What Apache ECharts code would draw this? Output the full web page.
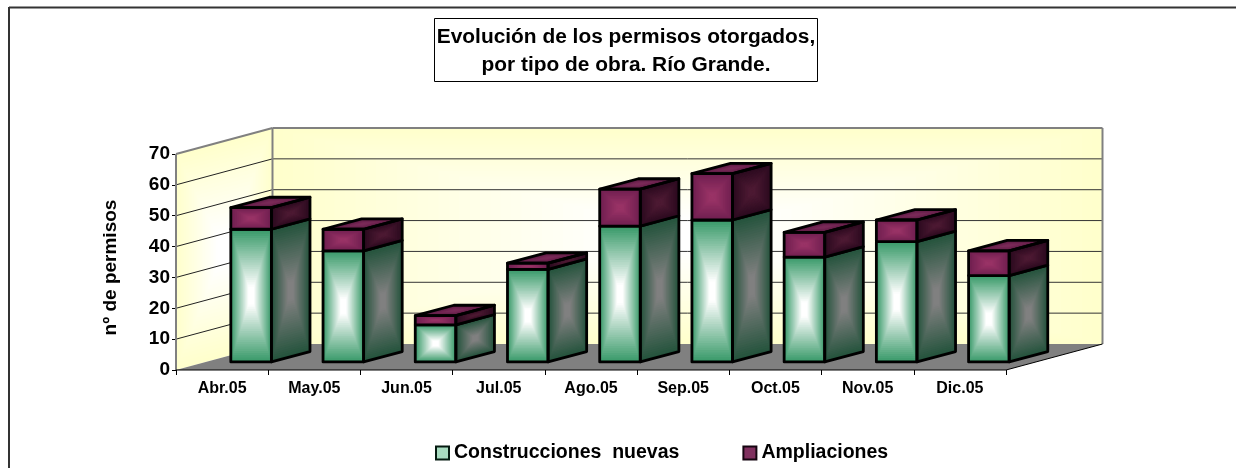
<!DOCTYPE html>
<html><head><meta charset="utf-8">
<style>html,body{margin:0;padding:0;background:#fff}#c{width:1236px;height:468px}</style>
<script src="https://cdn.jsdelivr.net/npm/echarts@6/dist/echarts.min.js"></script>
</head><body><div id="c"></div>
<script>
var categories = ['Abr.05','May.05','Jun.05','Jul.05','Ago.05','Sep.05','Oct.05','Nov.05','Dic.05'];
var nuevas = [43,36,12,30,44,46,34,39,28];
var ampliaciones = [7,7,3,2,12,15,8,7,8];
var yTicks = [0,10,20,30,40,50,60,70];
var FONT = '"Liberation Sans", Arial, sans-serif';
var DX = 96.5, DY = 26;            // oblique projection of the chart depth
var D0 = 0.31, D1 = 0.71, BAR = 0.44, BAR_SHIFT = -0.01;

function hex(c){return [parseInt(c.substr(1,2),16),parseInt(c.substr(3,2),16),parseInt(c.substr(5,2),16)];}
function mix(a,b,t){var A=hex(a),B=hex(b);return 'rgb('+A.map(function(v,i){return Math.round(v+(B[i]-v)*t);}).join(',')+')';}
// box gradient: nested copies of a polygon shrinking towards its centre
function boxFill(pts, edge, mid, steps){
  var cx=0,cy=0;pts.forEach(function(p){cx+=p[0]/pts.length;cy+=p[1]/pts.length;});
  var out=[];
  for(var i=0;i<steps;i++){
    var k=1-i/steps;
    out.push({type:'polygon',silent:true,shape:{points:pts.map(function(p){return [cx+(p[0]-cx)*k,cy+(p[1]-cy)*k];})},
      style:{fill:mix(edge,mid,Math.min(1,i/(steps-1)/0.88))}});
  }
  return out;
}
function outline(pts){
  return {type:'polygon',silent:true,shape:{points:pts},style:{fill:'none',stroke:'#000',lineWidth:2.8,lineJoin:'round'}};
}
function line(a,b,color,w){
  return {type:'line',silent:true,shape:{x1:a[0],y1:a[1],x2:b[0],y2:b[1]},style:{stroke:color,lineWidth:w}};
}
function off(p,d){return [p[0]+DX*d,p[1]-DY*d];}

function renderWalls(params, api){
  if(params.dataIndex!==0) return {type:'group',children:[]};
  var n=categories.length;
  var o=api.coord([0,0]), band=api.size([1,0])[0];
  var l0=[o[0]-band/2,o[1]], r0=[o[0]-band/2+band*n,o[1]];
  var topV=yTicks[yTicks.length-1];
  var lt=[l0[0],api.coord([0,topV])[1]], rt=[r0[0],lt[1]];
  var kids=[];
  var back=[off(lt,1),off(rt,1),off(r0,1),off(l0,1)];
  var left=[lt,off(lt,1),off(l0,1),l0];
  kids=kids.concat(boxFill(back,'#ffffcc','#ffffff',40));
  kids=kids.concat(boxFill(left,'#ffffcc','#ffffff',30));
  // grid lines
  yTicks.forEach(function(v){
    if(v===0||v===topV) return;
    var y=api.coord([0,v])[1];
    kids.push(line([l0[0],y],off([l0[0],y],1),'#222',1));
    kids.push(line(off([l0[0],y],1),off([r0[0],y],1),'#333',1));
  });
  kids.push({type:'polygon',silent:true,shape:{points:[l0,r0,off(r0,1),off(l0,1)]},style:{fill:'#808080'}});
  // wall frames
  var g='#808080';
  kids.push(line(l0,lt,g,2));
  kids.push(line(lt,off(lt,1),g,2));
  kids.push(line(off(lt,1),off(rt,1),g,2));
  kids.push(line(off(rt,1),off(r0,1),g,2));
  kids.push(line(off(lt,1),off(l0,1),g,2));
  kids.push(line(l0,r0,'#000',1));
  kids.push(line(r0,off(r0,1),'#000',1));
  return {type:'group',children:kids};
}
function barRenderer(palette, withTop){
  return function(params, api){
    var i=api.value(0);
    var a=api.coord([i,api.value(1)]), b=api.coord([i,api.value(2)]), band=api.size([1,0])[0];
    var cx=a[0]+band*BAR_SHIFT, hw=band*BAR/2;
    var bl=off([cx-hw,a[1]],D0), br=off([cx+hw,a[1]],D0), tl=off([cx-hw,b[1]],D0), tr=off([cx+hw,b[1]],D0);
    var d=D1-D0;
    var brb=off(br,d), trb=off(tr,d), tlb=off(tl,d);
    var front=[tl,tr,br,bl], side=[tr,trb,brb,br], top=[tl,tlb,trb,tr];
    var kids=[];
    kids=kids.concat(boxFill(front,palette.front[0],palette.front[1],30));
    kids=kids.concat(boxFill(side,palette.side[0],palette.side[1],30));
    if(withTop) kids=kids.concat(boxFill(top,palette.top[0],palette.top[1],8));
    kids.push(outline(front));kids.push(outline(side));
    if(withTop) kids.push(outline(top));
    return {type:'group',children:kids};
  };
}
var lowerData = nuevas.map(function(v,i){return [i,0,v];});
var upperData = ampliaciones.map(function(v,i){return [i,nuevas[i],nuevas[i]+v];});
var NUEVAS='Construcciones  nuevas', AMPL='Ampliaciones';
var greenPal={front:['#3a9a6a','#ffffff'],side:['#24533c','#808080']};
var maroonPal={front:['#6f1f50','#993366'],side:['#2b0a1f','#4d1a33'],top:['#5a1a42','#7a2a58']};

var chart=echarts.init(document.getElementById('c'),null,{renderer:'canvas'});
chart.setOption({
  animation:false,
  backgroundColor:'#fff',
  title:{text:'Evolución de los permisos otorgados,\npor tipo de obra. Río Grande.',left:623,top:18,
    padding:[5,3,3,3],borderColor:'#000',borderWidth:1,textAlign:'center',
    textStyle:{fontFamily:FONT,fontWeight:'bold',fontSize:20.9,lineHeight:28,color:'#000'}},
  legend:{left:435,top:443,padding:0,itemWidth:13,itemHeight:13,itemGap:63,icon:'rect',selectedMode:false,
    textStyle:{fontFamily:FONT,fontWeight:'bold',fontSize:19.5,color:'#000',padding:[1,0,0,0]},
    data:[
      {name:NUEVAS,itemStyle:{color:'#a8dcc0',borderColor:'#051a10',borderWidth:2}},
      {name:AMPL,itemStyle:{color:'#80305f',borderColor:'#140510',borderWidth:2}}]},
  grid:{left:176,right:230,top:154,bottom:98,containLabel:false},
  xAxis:{type:'category',data:categories,
    axisLine:{show:false},
    axisTick:{show:true,alignWithLabel:false,length:5,lineStyle:{color:'#000',width:1}},
    axisLabel:{fontFamily:FONT,fontWeight:'bold',fontSize:16,color:'#000',margin:11},
    splitLine:{show:false}},
  yAxis:{type:'value',min:0,max:70,interval:10,
    name:'nº de permisos',nameLocation:'middle',nameGap:56,nameRotate:90,
    nameTextStyle:{fontFamily:FONT,fontWeight:'bold',fontSize:19,color:'#000',padding:[0,11,0,0]},
    axisLine:{show:false},
    axisTick:{show:true,length:4,lineStyle:{color:'#000',width:1}},
    axisLabel:{fontFamily:FONT,fontWeight:'bold',fontSize:19,color:'#000',margin:6,padding:[5,0,0,0]},
    splitLine:{show:false}},
  graphic:[
    {type:'line',silent:true,shape:{x1:9,y1:7.5,x2:1236,y2:7.5},style:{stroke:'#333',lineWidth:2}},
    {type:'line',silent:true,shape:{x1:9,y1:7,x2:9,y2:468},style:{stroke:'#333',lineWidth:2}}
  ],
  series:[
    {type:'custom',name:'walls',silent:true,data:[[0,0]],encode:{x:0,y:1},renderItem:renderWalls,clip:false,z:1},
    {type:'custom',name:NUEVAS,data:lowerData,encode:{x:0,y:[1,2]},renderItem:barRenderer(greenPal,false),clip:false,z:2},
    {type:'custom',name:AMPL,data:upperData,encode:{x:0,y:[1,2]},renderItem:barRenderer(maroonPal,true),clip:false,z:3}
  ]
});
</script></body></html>
